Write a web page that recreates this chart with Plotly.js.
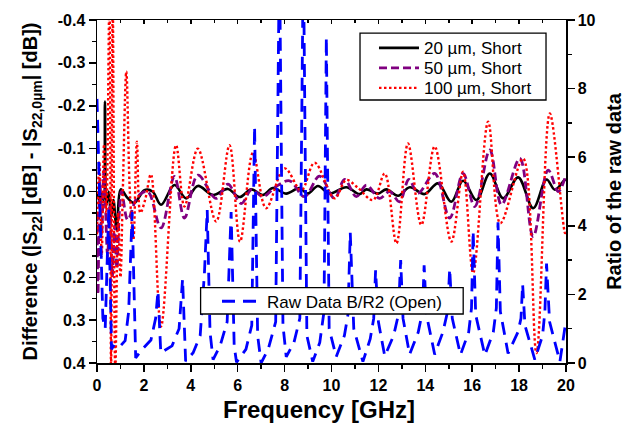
<!DOCTYPE html>
<html>
<head>
<meta charset="utf-8">
<script src="https://cdn.plot.ly/plotly-3.0.1.min.js"></script>
<style>html,body{margin:0;padding:0;background:#fff;}#chart{width:629px;height:431px;}</style>
</head>
<body>
<div id="chart"></div>
<script>
// ---- data ----
var freq20 = [0, 0.1, 0.2, 0.28, 0.34, 0.4, 0.5, 0.6, 0.7, 0.84, 1.02, 1.3, 1.59, 2.02, 2.37, 2.73, 3.3, 3.8, 4.3, 4.94, 5.58, 6.08, 6.58, 7.07, 7.5, 8.07, 8.64, 8.99, 9.42, 9.92, 10.63, 11.2, 11.49, 11.98, 12.34, 12.84, 13.34, 13.97, 14.54, 15.11, 15.61, 16.18, 16.75, 17.32, 17.96, 18.6, 19.17, 19.53, 19.96, 20];
var diff20 = [0.0, 0.02, 0.005, 0.02, -0.21, 0.03, 0.0, 0.06, 0.02, 0.09, -0.005, 0.015, 0.027, -0.003, 0.0, 0.031, -0.015, 0.016, -0.013, 0.008, -0.006, 0.013, -0.005, 0.008, -0.008, 0.005, -0.008, 0.005, -0.013, 0.005, -0.01, 0.006, -0.005, 0.005, -0.005, 0.01, -0.01, 0.006, -0.019, 0.024, -0.025, 0.02, -0.042, 0.016, -0.033, 0.039, -0.028, -0.004, -0.027, -0.025];

var freq50 = [0, 0.04, 0.12, 0.2, 0.3, 0.45, 0.55, 0.65, 0.75, 0.85, 0.95, 1.05, 1.31, 1.73, 2.16, 2.73, 3.3, 3.73, 4.3, 5.08, 5.58, 6.15, 6.6, 7.07, 7.6, 8.21, 8.85, 9.49, 10.13, 10.56, 11.06, 11.49, 12.05, 12.48, 12.9, 13.3, 13.69, 14.4, 15.04, 15.61, 16.11, 16.75, 17.25, 18.03, 18.6, 19.24, 19.67, 20];
var diff50 = [0.05, 0.24, -0.03, 0.1, -0.05, 0.15, 0.03, 0.2, 0.08, 0.18, 0.05, 0.0, 0.066, 0.012, 0.0, 0.085, -0.035, 0.062, -0.038, 0.016, -0.017, 0.028, -0.005, 0.012, -0.01, -0.025, 0.012, -0.036, 0.016, -0.028, 0.012, -0.015, 0.016, 0.0, 0.024, -0.028, 0.004, -0.042, 0.062, -0.042, 0.035, -0.097, 0.031, -0.077, 0.105, -0.05, 0.0, -0.04];

var freq100 = [0, 0.1, 0.2, 0.3, 0.4, 0.53, 0.6, 0.67, 0.78, 0.9, 1.0, 1.1, 1.25, 1.4, 1.55, 1.7, 1.85, 2.05, 2.3, 2.73, 3.37, 3.73, 4.3, 5.08, 5.65, 6.1, 6.65, 7.21, 8.0, 8.71, 9.28, 10.13, 10.63, 11.1, 11.77, 12.27, 12.77, 13.26, 13.83, 14.4, 15.11, 15.61, 16.04, 16.68, 17.2, 18.17, 18.74, 19.31, 19.96, 20];
var diff100 = [0.1, -0.07, 0.15, -0.11, 0.05, -0.45, 0.42, -0.45, 0.42, 0.05, 0.2, 0.0, -0.28, 0.0, 0.113, -0.116, 0.05, 0.02, -0.04, 0.315, -0.108, 0.035, -0.1, 0.07, -0.108, 0.117, -0.09, 0.039, -0.054, -0.003, -0.067, 0.016, -0.027, -0.01, 0.02, -0.042, 0.121, -0.112, 0.078, -0.105, 0.117, -0.046, 0.19, -0.163, 0.074, -0.077, 0.377, -0.182, 0.097, 0.09];

var freqRaw = [0, 0.1, 0.18, 0.25, 0.35, 0.5, 0.62, 0.75, 1.0, 1.2, 1.35, 1.5, 1.65, 1.9, 2.3, 2.5, 2.6, 2.72, 3.2, 3.5, 3.65, 3.78, 4.1, 4.4, 4.58, 4.7, 4.82, 4.95, 5.25, 5.55, 5.72, 5.85, 5.95, 6.35, 6.6, 6.72, 6.85, 7.0, 7.3, 7.62, 7.78, 7.93, 8.07, 8.4, 8.65, 8.8, 8.95, 9.2, 9.5, 9.68, 9.78, 9.9, 10.2, 10.55, 10.7, 10.8, 10.95, 11.34, 11.65, 11.8, 11.88, 12.0, 12.27, 12.65, 12.85, 12.95, 13.05, 13.33, 13.7, 13.88, 13.95, 14.05, 14.4, 14.75, 14.95, 15.04, 15.15, 15.5, 15.85, 15.97, 16.04, 16.15, 16.54, 16.9, 17.03, 17.1, 17.2, 17.53, 17.95, 18.08, 18.15, 18.25, 18.67, 19.0, 19.1, 19.17, 19.3, 19.74, 20];
var ratioRaw = [7.7, 5.0, 2.4, 1.3, 1.0, 4.5, 0.4, 0.55, 0.5, 0.65, 1.5, 4.4, 0.15, 0.38, 0.67, 1.3, 2.1, 0.3, 0.5, 1.0, 2.45, 0.05, 0.3, 0.8, 2.6, 4.46, 0.9, 0.1, 0.5, 1.2, 4.4, 0.5, 0.02, 0.4, 1.1, 6.9, 0.8, 0.0, 0.4, 1.2, 12, 1.1, 0.18, 0.6, 1.3, 12, 0.8, 0.04, 0.6, 1.5, 9.5, 1.0, 0.18, 0.8, 1.4, 3.8, 1.0, 0.04, 0.7, 1.3, 2.7, 1.2, 0.2, 0.8, 1.4, 3.0, 1.3, 0.25, 0.9, 1.5, 2.85, 1.4, 0.25, 0.9, 1.5, 2.75, 1.3, 0.24, 0.9, 1.6, 3.85, 1.4, 0.23, 0.9, 1.6, 4.1, 1.5, 0.28, 0.9, 1.3, 2.3, 1.1, 0.1, 0.8, 1.5, 2.9, 1.2, 0.04, 1.25];

var seriesNames = ['20 µm, Short', '50 µm, Short', '100 µm, Short', 'Raw Data B/R2 (Open)'];
var leftTickVals = [-0.4, -0.3, -0.2, -0.1, 0, 0.1, 0.2, 0.3, 0.4];
var leftTickText = ['-0.4', '-0.3', '-0.2', '-0.1', '0.0', '0.1', '0.2', '0.3', '0.4'];
var rightTickVals = [0, 2, 4, 6, 8, 10];
var xTickVals = [0, 2, 4, 6, 8, 10, 12, 14, 16, 18, 20];

// ---- chart ----
var FONT = 'Arial, "Liberation Sans", sans-serif';
var traces = [
  {x: freq20, y: diff20, name: seriesNames[0], type: 'scatter', mode: 'lines',
   line: {color: '#000000', width: 2.6, shape: 'spline', smoothing: 1}, legend: 'legend', xaxis: 'x', yaxis: 'y'},
  {x: freq50, y: diff50, name: seriesNames[1], type: 'scatter', mode: 'lines',
   line: {color: '#800080', width: 2.8, dash: '8px,4px', shape: 'spline', smoothing: 1}, legend: 'legend3', xaxis: 'x', yaxis: 'y'},
  {x: freq100, y: diff100, name: seriesNames[2], type: 'scatter', mode: 'lines',
   line: {color: '#ff0000', width: 2.4, dash: '2.5px,2.5px', shape: 'spline', smoothing: 1}, legend: 'legend4', xaxis: 'x', yaxis: 'y'},
  {x: freqRaw, y: ratioRaw, name: seriesNames[3], type: 'scatter', mode: 'lines',
   line: {color: '#0000ff', width: 2.8, dash: '13px,8px'}, legend: 'legend2', xaxis: 'x', yaxis: 'y2'},
  {x: [null], y: [null], type: 'scatter', mode: 'lines', showlegend: false, hoverinfo: 'skip', xaxis: 'x2', yaxis: 'y'}
];

function legendAt(xp, yp) {
  return {x: xp, y: yp, xanchor: 'left', yanchor: 'middle', bgcolor: 'rgba(0,0,0,0)',
          borderwidth: 0, font: {family: FONT, size: 17}, itemwidth: 40};
}

var layout = {
  width: 629, height: 431,
  margin: {l: 97, r: 63, t: 20, b: 68, pad: 0},
  paper_bgcolor: '#ffffff', plot_bgcolor: '#ffffff',
  font: {family: FONT, color: '#000000'},
  showlegend: true,
  xaxis: {
    range: [0, 20], tickvals: xTickVals, ticks: 'outside', ticklen: 7, tickwidth: 1.5, tickcolor: '#000',
    minor: {dtick: 1, ticks: 'outside', ticklen: 4, tickwidth: 1.5, tickcolor: '#000'},
    showline: true, linewidth: 1.5, linecolor: '#000', showgrid: false, zeroline: false,
    tickfont: {family: FONT, size: 16, weight: 'bold'}
  },
  xaxis2: {
    overlaying: 'x', matches: 'x', side: 'top', anchor: 'y', range: [0, 20], tickvals: xTickVals,
    ticks: 'inside', ticklen: 4, tickwidth: 1.5, tickcolor: '#000', showticklabels: false,
    minor: {dtick: 1, ticks: 'inside', ticklen: 3, tickwidth: 1.5, tickcolor: '#000'},
    showline: true, linewidth: 1.5, linecolor: '#000', showgrid: false, zeroline: false
  },
  yaxis: {
    range: [0.4, -0.4], tickvals: leftTickVals, ticktext: leftTickText,
    ticks: 'outside', ticklen: 7, tickwidth: 1.5, tickcolor: '#000',
    minor: {dtick: 0.05, tick0: 0, ticks: 'outside', ticklen: 4, tickwidth: 1.5, tickcolor: '#000'},
    showline: true, linewidth: 1.5, linecolor: '#000', showgrid: false, zeroline: false,
    tickfont: {family: FONT, size: 16, weight: 'bold'},
    title: {text: '<b>Difference (|S<sub>22</sub>| [dB] - |S<sub>22,0µm</sub>| [dB])</b>', font: {family: FONT, size: 20}, standoff: 14}
  },
  yaxis2: {
    overlaying: 'y', side: 'right', anchor: 'x', range: [0, 10], tickvals: rightTickVals,
    ticks: 'outside', ticklen: 7, tickwidth: 1.5, tickcolor: '#000',
    minor: {dtick: 1, ticks: 'outside', ticklen: 4, tickwidth: 1.5, tickcolor: '#000'},
    showline: true, linewidth: 1.5, linecolor: '#000', showgrid: false, zeroline: false,
    tickfont: {family: FONT, size: 16, weight: 'bold'},
    title: {text: '<b>Ratio of the raw data</b>', font: {family: FONT, size: 20}, standoff: 12}
  },
  annotations: [
    {text: '<b>Frequency [GHz]</b>', xref: 'paper', yref: 'paper', x: 0.4723, y: -0.137,
     xanchor: 'center', yanchor: 'middle', showarrow: false, font: {family: FONT, size: 24, color: '#000'}}
  ],
  legend: legendAt(0.5906, 0.9175),
  legend3: legendAt(0.5906, 0.8592),
  legend4: legendAt(0.5906, 0.8009),
  legend2: legendAt(0.2559, 0.1787),
  shapes: [
    {type: 'rect', xref: 'paper', yref: 'paper', x0: 0.5608, x1: 0.9574, y0: 0.7668, y1: 0.962,
     line: {color: '#000', width: 1.3}, fillcolor: '#ffffff', layer: 'above'},
    {type: 'rect', xref: 'paper', yref: 'paper', x0: 0.2209, x1: 0.7808, y0: 0.1429, y1: 0.2195,
     line: {color: '#000', width: 1.3}, fillcolor: '#ffffff', layer: 'above'}
  ]
};

Plotly.newPlot('chart', traces, layout, {displayModeBar: false, staticPlot: true});
</script>
</body>
</html>
